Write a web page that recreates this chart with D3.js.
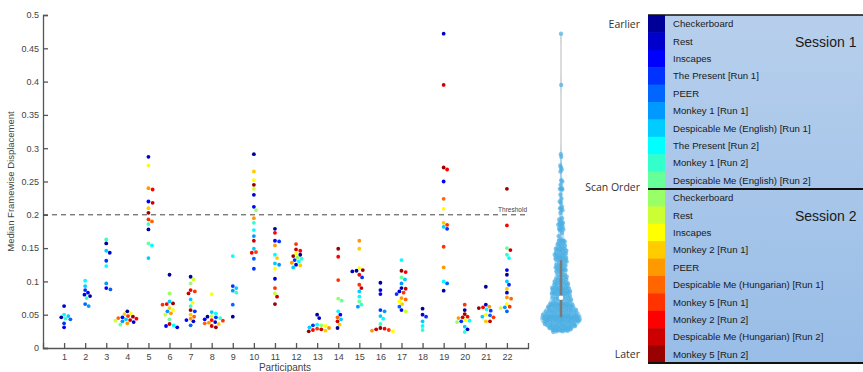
<!DOCTYPE html>
<html>
<head>
<meta charset="utf-8">
<script src="https://cdn.jsdelivr.net/npm/d3@7"></script>
<style>
  body { margin: 0; background: #fff; }
  svg { display: block; }
</style>
</head>
<body>
<script>
// Data
const participants = [1, 2, 3, 4, 5, 6, 7, 8, 9, 10, 11, 12, 13, 14, 15, 16, 17, 18, 19, 20, 21, 22];
const yTicks = [0, 0.05, 0.1, 0.15, 0.2, 0.25, 0.3, 0.35, 0.4, 0.45, 0.5];
const threshold = 0.2;

const session1 = ['Checkerboard', 'Rest', 'Inscapes', 'The Present [Run 1]', 'PEER', 'Monkey 1 [Run 1]',
  'Despicable Me (English) [Run 1]', 'The Present [Run 2]', 'Monkey 1 [Run 2]', 'Despicable Me (English) [Run 2]'];
const session2 = ['Checkerboard', 'Rest', 'Inscapes', 'Monkey 2 [Run 1]', 'PEER', 'Despicable Me (Hungarian) [Run 1]',
  'Monkey 5 [Run 1]', 'Monkey 2 [Run 2]', 'Despicable Me (Hungarian) [Run 2]', 'Monkey 5 [Run 2]'];

// median FD per participant, one entry per scan
const fdValues = [
  [0.063, 0.050, 0.048, 0.046, 0.044, 0.043, 0.037, 0.031],
  [0.101, 0.093, 0.087, 0.083, 0.080, 0.078, 0.075, 0.066, 0.063],
  [0.163, 0.157, 0.146, 0.143, 0.131, 0.123, 0.097, 0.090, 0.088],
  [0.055, 0.052, 0.051, 0.048, 0.047, 0.046, 0.045, 0.044, 0.043, 0.042, 0.041, 0.040, 0.039, 0.037, 0.035],
  [0.287, 0.274, 0.240, 0.238, 0.220, 0.218, 0.210, 0.203, 0.193, 0.190, 0.186, 0.178, 0.157, 0.154, 0.135],
  [0.110, 0.082, 0.070, 0.067, 0.066, 0.065, 0.060, 0.057, 0.055, 0.052, 0.050, 0.043, 0.036, 0.034, 0.033, 0.031],
  [0.107, 0.103, 0.097, 0.087, 0.085, 0.082, 0.073, 0.068, 0.063, 0.057, 0.055, 0.050, 0.047, 0.044, 0.042, 0.040, 0.034],
  [0.081, 0.054, 0.052, 0.048, 0.047, 0.046, 0.045, 0.043, 0.042, 0.041, 0.039, 0.038, 0.037, 0.036, 0.033, 0.031],
  [0.138, 0.093, 0.090, 0.086, 0.083, 0.065, 0.047],
  [0.291, 0.265, 0.252, 0.245, 0.239, 0.230, 0.212, 0.207, 0.195, 0.188, 0.177, 0.168, 0.161, 0.149, 0.144, 0.143, 0.134, 0.119],
  [0.179, 0.173, 0.161, 0.160, 0.154, 0.140, 0.135, 0.127, 0.125, 0.119, 0.104, 0.090, 0.082, 0.077, 0.066],
  [0.156, 0.148, 0.146, 0.142, 0.140, 0.138, 0.136, 0.134, 0.132, 0.130, 0.128, 0.125, 0.124, 0.121],
  [0.050, 0.045, 0.035, 0.034, 0.034, 0.033, 0.031, 0.030, 0.029, 0.028, 0.027, 0.026, 0.025],
  [0.149, 0.137, 0.102, 0.074, 0.071, 0.055, 0.050, 0.046, 0.043, 0.040, 0.035, 0.030],
  [0.161, 0.149, 0.120, 0.117, 0.116, 0.115, 0.110, 0.106, 0.095, 0.090, 0.085, 0.077, 0.070, 0.065, 0.062],
  [0.098, 0.087, 0.081, 0.057, 0.055, 0.048, 0.044, 0.036, 0.030, 0.029, 0.028, 0.027, 0.026, 0.025],
  [0.132, 0.116, 0.114, 0.106, 0.103, 0.097, 0.090, 0.089, 0.085, 0.083, 0.081, 0.075, 0.073, 0.070, 0.066, 0.062, 0.057, 0.055],
  [0.059, 0.050, 0.047, 0.040, 0.033, 0.027],
  [0.472, 0.395, 0.271, 0.268, 0.250, 0.224, 0.209, 0.188, 0.185, 0.182, 0.179, 0.152, 0.121, 0.100, 0.097, 0.086],
  [0.065, 0.057, 0.051, 0.047, 0.046, 0.045, 0.042, 0.041, 0.040, 0.039, 0.032, 0.028, 0.024],
  [0.092, 0.065, 0.062, 0.061, 0.060, 0.058, 0.056, 0.050, 0.049, 0.047, 0.046, 0.040, 0.040],
  [0.239, 0.184, 0.150, 0.147, 0.140, 0.135, 0.117, 0.110, 0.100, 0.095, 0.089, 0.083, 0.076, 0.074, 0.066, 0.062, 0.061, 0.060, 0.055]
];

// scan order index (0 = earliest) for each value above
const fdScans = [
  [1, 7, 6, 0, 8, 4, 3, 2],
  [7, 6, 3, 2, 1, 0, 8, 4, 5],
  [8, 0, 6, 1, 3, 7, 5, 2, 4],
  [0, 12, 13, 16, 19, 2, 15, 17, 6, 18, 11, 5, 1, 14, 9],
  [1, 12, 14, 17, 2, 18, 13, 19, 16, 15, 8, 0, 9, 7, 6],
  [0, 10, 6, 19, 17, 16, 13, 12, 5, 14, 11, 9, 18, 7, 2, 1],
  [0, 11, 10, 17, 16, 18, 6, 12, 8, 19, 3, 13, 15, 14, 2, 1, 4],
  [12, 6, 7, 11, 0, 3, 8, 2, 17, 16, 1, 14, 15, 13, 18, 19],
  [7, 3, 6, 5, 8, 4, 0],
  [0, 13, 12, 19, 11, 1, 2, 10, 14, 8, 7, 5, 18, 6, 16, 17, 4, 3],
  [0, 17, 2, 3, 14, 7, 13, 6, 5, 12, 1, 16, 11, 18, 19],
  [16, 18, 17, 12, 0, 19, 10, 8, 3, 7, 14, 1, 13, 6],
  [0, 1, 7, 10, 3, 12, 6, 14, 16, 18, 17, 13, 19],
  [19, 17, 16, 10, 9, 7, 2, 15, 6, 18, 13, 0],
  [14, 13, 12, 19, 0, 1, 17, 3, 16, 18, 6, 7, 9, 8, 5],
  [0, 1, 2, 3, 5, 6, 7, 8, 19, 17, 18, 16, 14, 12],
  [7, 19, 17, 9, 6, 5, 0, 18, 1, 16, 3, 14, 15, 12, 13, 4, 2, 11],
  [0, 1, 3, 6, 7, 8],
  [1, 18, 19, 17, 2, 15, 12, 13, 16, 6, 3, 16, 14, 7, 4, 0],
  [16, 0, 19, 17, 18, 14, 12, 7, 3, 10, 6, 1, 8],
  [0, 1, 14, 17, 19, 7, 3, 12, 4, 6, 16, 13, 18],
  [19, 17, 9, 18, 8, 7, 2, 0, 6, 3, 13, 1, 14, 15, 12, 16, 5, 11, 4]
];

// jet(20) colormap, one colour per scan
const jet20 = ['#000099', '#0000cc', '#0000ff', '#0033ff', '#0066ff', '#0099ff', '#00ccff', '#00ffff', '#33ffcc', '#66ff99',
  '#99ff66', '#ccff33', '#ffff00', '#ffcc00', '#ff9900', '#ff6600', '#ff3300', '#ff0000', '#cc0000', '#990000'];

// Layout
const width = 863;
const height = 372;
const font = '"Liberation Sans", Arial, sans-serif';
const axisColor = '#555';

const svg = d3.select('body').append('svg')
  .attr('width', width)
  .attr('height', height);

const x = d3.scaleLinear().domain([0, 23]).range([43, 528]);
const y = d3.scaleLinear().domain([0, 0.5]).range([348, 15]);

// Simple beeswarm so points in a column don't overlap
function swarm(vals, cx, r) {
  const order = d3.range(vals.length).sort((a, b) => d3.descending(vals[a], vals[b]));
  const placed = [];
  const out = new Array(vals.length);
  order.forEach(i => {
    const py = y(vals[i]);
    let dx = 0;
    for (let k = 0; k < 200; k++) {
      const cand = (k % 2 ? 1 : -1) * Math.ceil(k / 2) * 0.7;
      const ok = placed.every(p => (p.x - cand) ** 2 + (p.y - py) ** 2 >= (2 * r) ** 2);
      if (ok) { dx = cand; break; }
    }
    placed.push({ x: dx, y: py });
    out[i] = { x: cx + dx, y: py };
  });
  return out;
}

// Axes
const yAxis = svg.append('g')
  .attr('transform', `translate(${x(0)},0)`)
  .call(d3.axisLeft(y).tickValues(yTicks).tickSize(-5).tickPadding(4).tickFormat(d => d3.format('')(+d.toFixed(2))));
const xAxis = svg.append('g')
  .attr('transform', `translate(0,${y(0)})`)
  .call(d3.axisBottom(x).tickValues(participants).tickSize(-5));

[yAxis, xAxis].forEach(a => {
  a.select('.domain').attr('stroke', axisColor).attr('stroke-width', 1.3);
  a.selectAll('.tick line').attr('stroke', axisColor).attr('stroke-width', 1.3);
  a.selectAll('.tick text').attr('fill', '#444').attr('font-size', 9).attr('font-family', font);
});
xAxis.selectAll('.tick text').attr('y', 12).attr('dy', 0);

// Axis titles
svg.append('text')
  .attr('transform', `translate(14,${y(0.25)}) rotate(-90)`)
  .attr('text-anchor', 'middle')
  .attr('font-family', font).attr('font-size', 9.5).attr('fill', '#444')
  .text('Median Framewise Displacement');
svg.append('text')
  .attr('x', 285).attr('y', 370.5)
  .attr('text-anchor', 'middle')
  .attr('font-family', font).attr('font-size', 10).attr('fill', '#444')
  .text('Participants');

// Threshold line
svg.append('line')
  .attr('x1', x(0)).attr('x2', x(23))
  .attr('y1', y(threshold)).attr('y2', y(threshold))
  .attr('stroke', '#444').attr('stroke-width', 1).attr('stroke-dasharray', '5,4');
svg.append('text')
  .attr('x', x(23) - 1).attr('y', y(threshold) - 3)
  .attr('text-anchor', 'end')
  .attr('font-family', font).attr('font-size', 6.5).attr('fill', '#444')
  .text('Threshold');

// Participant points
const pts = svg.append('g');
participants.forEach((p, i) => {
  const pos = swarm(fdValues[i], x(p), 1.9);
  pts.selectAll(null)
    .data(fdValues[i].map((v, j) => ({ v, s: fdScans[i][j], pos: pos[j] })))
    .join('circle')
    .attr('cx', d => d.pos.x)
    .attr('cy', d => d.pos.y)
    .attr('r', 1.9)
    .attr('fill', d => jet20[d.s]);
});

// Violin of all values
const allValues = fdValues.flat().sort(d3.ascending);
const vx = 561;
const bw = 0.009;
const kde = v => d3.mean(allValues, a => Math.exp(-0.5 * ((v - a) / bw) ** 2));
const grid = d3.range(allValues[0], allValues[allValues.length - 1] + 0.0001, 0.0015);
const dens = grid.map(g => ({ v: g, d: kde(g) }));
const maxD = d3.max(dens, d => d.d);
const w = d3.scaleLinear().domain([0, maxD]).range([0, 21]);

svg.append('line')
  .attr('x1', vx).attr('x2', vx)
  .attr('y1', y(allValues[allValues.length - 1])).attr('y2', y(allValues[0]))
  .attr('stroke', '#b9b9b9').attr('stroke-width', 1);

svg.append('path')
  .datum(dens)
  .attr('d', d3.area().y(d => y(d.v)).x0(d => vx - w(d.d)).x1(d => vx + w(d.d)).curve(d3.curveBasis))
  .attr('fill', '#7fc3ec').attr('fill-opacity', 0.55);

// dots spread inside the violin with a golden-ratio sequence
svg.append('g').selectAll('circle')
  .data(allValues)
  .join('circle')
  .attr('cx', (v, i) => vx + w(kde(v)) * 0.9 * (((i * 0.618034) % 1) * 2 - 1))
  .attr('cy', v => y(v))
  .attr('r', 2.2)
  .attr('fill', '#4aaee3').attr('fill-opacity', 0.7);

const q1 = d3.quantile(allValues, 0.25);
const q3 = d3.quantile(allValues, 0.75);
const med = d3.quantile(allValues, 0.5);
svg.append('line')
  .attr('x1', vx).attr('x2', vx).attr('y1', y(q3)).attr('y2', y(q1))
  .attr('stroke', '#7a7a7a').attr('stroke-width', 2.5);
svg.append('circle')
  .attr('cx', vx).attr('cy', y(med)).attr('r', 2.3)
  .attr('fill', '#fff');

// Legend
const lx = 648;
const legendTop = 15;
const rowH = 17.4;
const names = session1.concat(session2);
const defs = svg.append('defs');
const grad = defs.append('linearGradient').attr('id', 'lg').attr('x1', 0).attr('x2', 0).attr('y1', 0).attr('y2', 1);
grad.append('stop').attr('offset', '0%').attr('stop-color', '#b7cfec');
grad.append('stop').attr('offset', '100%').attr('stop-color', '#98bde7');

svg.append('rect')
  .attr('x', lx).attr('y', legendTop).attr('width', width - lx).attr('height', rowH * 20)
  .attr('fill', 'url(#lg)');

const rows = svg.append('g');
rows.selectAll('rect')
  .data(names)
  .join('rect')
  .attr('x', lx).attr('y', (d, i) => legendTop + i * rowH)
  .attr('width', 17).attr('height', rowH + 0.5)
  .attr('fill', (d, i) => jet20[i]);
rows.selectAll('text')
  .data(names)
  .join('text')
  .attr('x', 673).attr('y', (d, i) => legendTop + i * rowH + rowH / 2 + 3.5)
  .attr('font-family', font).attr('font-size', 9.6).attr('fill', '#1a1a1a')
  .text(d => d);

[legendTop, legendTop + rowH * 10, legendTop + rowH * 20].forEach((ly, i) => {
  svg.append('line')
    .attr('x1', lx).attr('x2', width).attr('y1', ly).attr('y2', ly)
    .attr('stroke', '#111').attr('stroke-width', i === 0 ? 1.5 : 2);
});

svg.append('text').attr('x', 795).attr('y', legendTop + rowH * 1.5 + 6)
  .attr('font-family', font).attr('font-size', 14).attr('fill', '#1a1a1a').text('Session 1');
svg.append('text').attr('x', 795).attr('y', legendTop + rowH * 11.5 + 6)
  .attr('font-family', font).attr('font-size', 14).attr('fill', '#1a1a1a').text('Session 2');

const sideFont = '"Open Sans", "Liberation Sans", sans-serif';
[['Earlier', legendTop + rowH * 0.5], ['Scan Order', legendTop + rowH * 10 - 2], ['Later', legendTop + rowH * 19.5]].forEach(([t, ty]) => {
  svg.append('text')
    .attr('x', 640).attr('y', ty + 4)
    .attr('text-anchor', 'end')
    .attr('font-family', sideFont).attr('font-size', 10.5).attr('fill', '#333')
    .text(t);
});
</script>
</body>
</html>
